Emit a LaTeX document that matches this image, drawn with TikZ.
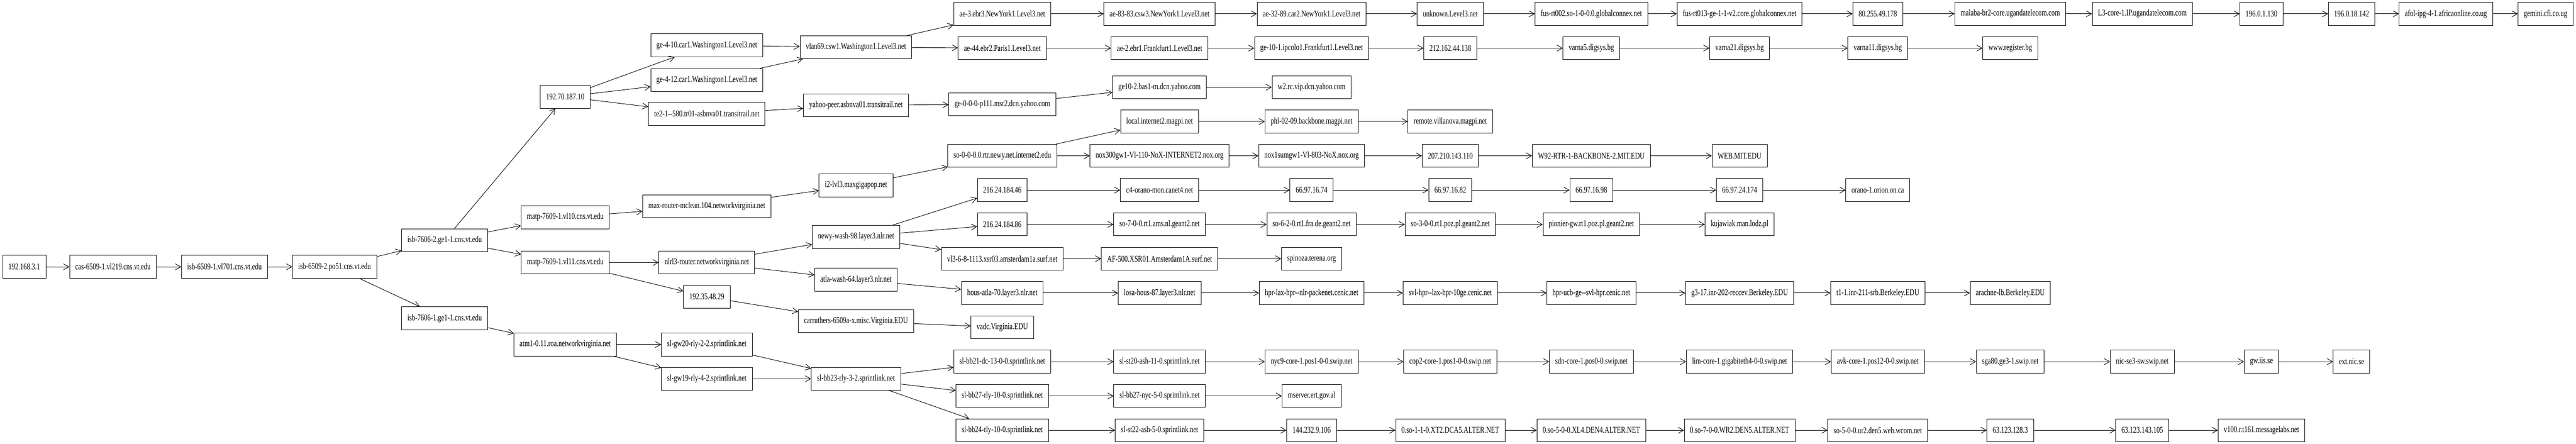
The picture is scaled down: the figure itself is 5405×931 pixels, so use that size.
\documentclass[tikz,border=0pt]{standalone}
\usepackage{fontspec}
\setmainfont[Ligatures=TeXOff,FakeStretch=0.75]{Liberation Serif}
\usetikzlibrary{arrows.meta}
\begin{document}
\begin{tikzpicture}[x=0.75pt, y=-0.75pt, line width=0.75pt,
    >={Straight Barb[length=8.5pt,width=9.5pt]},
    router/.style={draw, rectangle, minimum height=36pt, inner xsep=9pt,
        font=\fontsize{14pt}{16pt}\selectfont}]
    \useasboundingbox (0,0) rectangle (5405,931);

    % Campus
    \node[router] (lan) at (51,560) {192.168.3.1};
    \node[router] (cas) at (237,560) {cas-6509-1.vl219.cns.vt.edu};
    \node[router] (isbA) at (471,560) {isb-6509-1.vl701.cns.vt.edu};
    \node[router] (isbB) at (702,560) {isb-6509-2.po51.cns.vt.edu};
    \node[router] (isbC) at (933,504) {isb-7606-2.ge1-1.cns.vt.edu};
    \node[router] (isbD) at (933,668) {isb-7606-1.ge1-1.cns.vt.edu};
    \node[router] (vt10) at (1186,203) {192.70.187.10};
    \node[router] (matpA) at (1186,456) {matp-7609-1.vl10.cns.vt.edu};
    \node[router] (matpB) at (1186,551) {matp-7609-1.vl11.cns.vt.edu};
    \node[router] (atm) at (1186,723) {atm1-0.11.roa.networkvirginia.net};

    % Arrows
    \draw[->] (lan) -- (cas);
    \draw[->] (cas) -- (isbA);
    \draw[->] (isbA) -- (isbB);
    \draw[->] (isbB) -- (isbC);
    \draw[->] (isbB) -- (isbD);
    \draw[->] (isbC) -- (vt10);
    \draw[->] (isbC) -- (matpA);
    \draw[->] (isbC) -- (matpB);
    \draw[->] (isbD) -- (atm);

    % Upstream
    \node[router] (ge410) at (1483,95) {ge-4-10.car1.Washington1.Level3.net};
    \node[router] (ge412) at (1483,168) {ge-4-12.car1.Washington1.Level3.net};
    \node[router] (te21) at (1483,239) {te2-1--580.tr01-asbnva01.transitrail.net};
    \node[router] (maxr) at (1483,433) {max-router-mclean.104.networkvirginia.net};
    \node[router] (nlrl3) at (1483,551) {nlrl3-router.networkvirginia.net};
    \node[router] (uva) at (1483,623) {192.35.48.29};
    \node[router] (gw20) at (1483,723) {sl-gw20-rly-2-2.sprintlink.net};
    \node[router] (gw19) at (1483,795) {sl-gw19-rly-4-2.sprintlink.net};

    % Arrows
    \draw[->] (vt10) -- (ge410);
    \draw[->] (vt10) -- (ge412);
    \draw[->] (vt10) -- (te21);
    \draw[->] (matpA) -- (maxr);
    \draw[->] (matpB) -- (nlrl3);
    \draw[->] (matpB) -- (uva);
    \draw[->] (atm) -- (gw20);
    \draw[->] (atm) -- (gw19);

    % Backbones
    \node[router] (vlan69) at (1796,99) {vlan69.csw1.Washington1.Level3.net};
    \node[router] (ypeer) at (1796,221) {yahoo-peer.asbnva01.transitrail.net};
    \node[router] (i2) at (1796,389) {i2-lvl3.maxgigapop.net};
    \node[router] (newy) at (1796,497) {newy-wash-98.layer3.nlr.net};
    \node[router] (atla) at (1796,587) {atla-wash-64.layer3.nlr.net};
    \node[router] (carr) at (1796,674) {carruthers-6509a-x.misc.Virginia.EDU};
    \node[router] (bb23) at (1796,795) {sl-bb23-rly-3-2.sprintlink.net};

    % Arrows
    \draw[->] (ge410) -- (vlan69);
    \draw[->] (ge412) -- (vlan69);
    \draw[->] (te21) -- (ypeer);
    \draw[->] (maxr) -- (i2);
    \draw[->] (nlrl3) -- (newy);
    \draw[->] (nlrl3) -- (atla);
    \draw[->] (uva) -- (carr);
    \draw[->] (gw20) -- (bb23);
    \draw[->] (gw19) -- (bb23);

    % Fourth hop out
    \node[router] (ae3) at (2103,29) {ae-3.ebr3.NewYork1.Level3.net};
    \node[router] (ae44) at (2103,101) {ae-44.ebr2.Paris1.Level3.net};
    \node[router] (msr2) at (2103,219) {ge-0-0-0-p111.msr2.dcn.yahoo.com};
    \node[router] (newyi2) at (2103,327) {so-0-0-0.0.rtr.newy.net.internet2.edu};
    \node[router] (ipA) at (2103,399) {216.24.184.46};
    \node[router] (ipB) at (2103,471) {216.24.184.86};
    \node[router] (xsr03) at (2103,543) {vl3-6-8-1113.xsr03.amsterdam1a.surf.net};
    \node[router] (hous) at (2103,615) {hous-atla-70.layer3.nlr.net};
    \node[router] (vadc) at (2103,687) {vadc.Virginia.EDU};
    \node[router] (bb21) at (2103,759) {sl-bb21-dc-13-0-0.sprintlink.net};
    \node[router] (bb27r) at (2103,831) {sl-bb27-rly-10-0.sprintlink.net};
    \node[router] (bb24) at (2103,903) {sl-bb24-rly-10-0.sprintlink.net};

    % Arrows
    \draw[->] (vlan69) -- (ae3);
    \draw[->] (vlan69) -- (ae44);
    \draw[->] (ypeer) -- (msr2);
    \draw[->] (i2) -- (newyi2);
    \draw[->] (newy) -- (ipA);
    \draw[->] (newy) -- (ipB);
    \draw[->] (newy) -- (xsr03);
    \draw[->] (atla) -- (hous);
    \draw[->] (carr) -- (vadc);
    \draw[->] (bb23) -- (bb21);
    \draw[->] (bb23) -- (bb27r);
    \draw[->] (bb23) -- (bb24);

    % Fifth hop out
    \node[router] (ae83) at (2433,29) {ae-83-83.csw3.NewYork1.Level3.net};
    \node[router] (ae2) at (2433,101) {ae-2.ebr1.Frankfurt1.Level3.net};
    \node[router] (bas1) at (2433,183) {ge10-2.bas1-m.dcn.yahoo.com};
    \node[router] (magpi) at (2433,255) {local.internet2.magpi.net};
    \node[router] (nox300) at (2433,327) {nox300gw1-Vl-110-NoX-INTERNET2.nox.org};
    \node[router] (canet) at (2433,399) {c4-orano-mon.canet4.net};
    \node[router] (ams) at (2433,471) {so-7-0-0.rt1.ams.nl.geant2.net};
    \node[router] (af500) at (2433,543) {AF-500.XSR01.Amsterdam1A.surf.net};
    \node[router] (losa) at (2433,615) {losa-hous-87.layer3.nlr.net};
    \node[router] (st20) at (2433,759) {sl-st20-ash-11-0.sprintlink.net};
    \node[router] (bb27n) at (2433,831) {sl-bb27-nyc-5-0.sprintlink.net};
    \node[router] (st22) at (2433,903) {sl-st22-ash-5-0.sprintlink.net};

    % Arrows
    \draw[->] (ae3) -- (ae83);
    \draw[->] (ae44) -- (ae2);
    \draw[->] (msr2) -- (bas1);
    \draw[->] (newyi2) -- (magpi);
    \draw[->] (newyi2) -- (nox300);
    \draw[->] (ipA) -- (canet);
    \draw[->] (ipB) -- (ams);
    \draw[->] (xsr03) -- (af500);
    \draw[->] (hous) -- (losa);
    \draw[->] (bb21) -- (st20);
    \draw[->] (bb27r) -- (bb27n);
    \draw[->] (bb24) -- (st22);

    % Sixth hop out
    \node[router] (ae32) at (2752,29) {ae-32-89.car2.NewYork1.Level3.net};
    \node[router] (ipcolo) at (2752,101) {ge-10-1.ipcolo1.Frankfurt1.Level3.net};
    \node[router] (w2rc) at (2752,183) {w2.rc.vip.dcn.yahoo.com};
    \node[router] (phl) at (2752,255) {phl-02-09.backbone.magpi.net};
    \node[router] (nox1) at (2752,327) {nox1sumgw1-Vl-803-NoX.nox.org};
    \node[router] (ipC) at (2752,399) {66.97.16.74};
    \node[router] (fra) at (2752,471) {so-6-2-0.rt1.fra.de.geant2.net};
    \node[router] (terena) at (2752,543) {spinoza.terena.org};
    \node[router] (hprlax) at (2752,615) {hpr-lax-hpr--nlr-packenet.cenic.net};
    \node[router] (nyc9) at (2752,759) {nyc9-core-1.pos1-0-0.swip.net};
    \node[router] (ertal) at (2752,831) {mserver.ert.gov.al};
    \node[router] (ipD) at (2752,903) {144.232.9.106};

    % Arrows
    \draw[->] (ae83) -- (ae32);
    \draw[->] (ae2) -- (ipcolo);
    \draw[->] (bas1) -- (w2rc);
    \draw[->] (magpi) -- (phl);
    \draw[->] (nox300) -- (nox1);
    \draw[->] (canet) -- (ipC);
    \draw[->] (ams) -- (fra);
    \draw[->] (af500) -- (terena);
    \draw[->] (losa) -- (hprlax);
    \draw[->] (st20) -- (nyc9);
    \draw[->] (bb27n) -- (ertal);
    \draw[->] (st22) -- (ipD);

    % Seventh hop out
    \node[router] (unknown) at (3043,29) {unknown.Level3.net};
    \node[router] (ipE) at (3043,101) {212.162.44.138};
    \node[router] (villa) at (3043,255) {remote.villanova.magpi.net};
    \node[router] (ipF) at (3043,327) {207.210.143.110};
    \node[router] (ipG) at (3043,399) {66.97.16.82};
    \node[router] (poz) at (3043,471) {so-3-0-0.rt1.poz.pl.geant2.net};
    \node[router] (svl) at (3043,615) {svl-hpr--lax-hpr-10ge.cenic.net};
    \node[router] (cop2) at (3043,759) {cop2-core-1.pos1-0-0.swip.net};
    \node[router] (xt2) at (3043,903) {0.so-1-1-0.XT2.DCA5.ALTER.NET};

    % Arrows
    \draw[->] (ae32) -- (unknown);
    \draw[->] (ipcolo) -- (ipE);
    \draw[->] (phl) -- (villa);
    \draw[->] (nox1) -- (ipF);
    \draw[->] (ipC) -- (ipG);
    \draw[->] (fra) -- (poz);
    \draw[->] (hprlax) -- (svl);
    \draw[->] (nyc9) -- (cop2);
    \draw[->] (ipD) -- (xt2);

    % Eighth hop out
    \node[router] (fus002) at (3339,29) {fus-rt002.so-1-0-0.0.globalconnex.net};
    \node[router] (varna5) at (3339,101) {varna5.digsys.bg};
    \node[router] (w92) at (3339,327) {W92-RTR-1-BACKBONE-2.MIT.EDU};
    \node[router] (ipH) at (3339,399) {66.97.16.98};
    \node[router] (pionier) at (3339,471) {pionier-gw.rt1.poz.pl.geant2.net};
    \node[router] (hprucb) at (3339,615) {hpr-ucb-ge--svl-hpr.cenic.net};
    \node[router] (sdn) at (3339,759) {sdn-core-1.pos0-0.swip.net};
    \node[router] (xl4) at (3339,903) {0.so-5-0-0.XL4.DEN4.ALTER.NET};

    % Arrows
    \draw[->] (unknown) -- (fus002);
    \draw[->] (ipE) -- (varna5);
    \draw[->] (ipF) -- (w92);
    \draw[->] (ipG) -- (ipH);
    \draw[->] (poz) -- (pionier);
    \draw[->] (svl) -- (hprucb);
    \draw[->] (cop2) -- (sdn);
    \draw[->] (xt2) -- (xl4);

    % Ninth hop out
    \node[router] (fus013) at (3650,29) {fus-rt013-ge-1-1-v2.core.globalconnex.net};
    \node[router] (varna21) at (3650,101) {varna21.digsys.bg};
    \node[router] (mit) at (3650,327) {WEB.MIT.EDU};
    \node[router] (ipI) at (3650,399) {66.97.24.174};
    \node[router] (lodz) at (3650,471) {kujawiak.man.lodz.pl};
    \node[router] (g317) at (3650,615) {g3-17.inr-202-reccev.Berkeley.EDU};
    \node[router] (lim) at (3650,759) {lim-core-1.gigabiteth4-0-0.swip.net};
    \node[router] (wr2) at (3650,903) {0.so-7-0-0.WR2.DEN5.ALTER.NET};

    % Arrows
    \draw[->] (fus002) -- (fus013);
    \draw[->] (varna5) -- (varna21);
    \draw[->] (w92) -- (mit);
    \draw[->] (ipH) -- (ipI);
    \draw[->] (pionier) -- (lodz);
    \draw[->] (hprucb) -- (g317);
    \draw[->] (sdn) -- (lim);
    \draw[->] (xl4) -- (wr2);

    % Tenth hop out
    \node[router] (ipJ) at (3940,29) {80.255.49.178};
    \node[router] (varna11) at (3940,101) {varna11.digsys.bg};
    \node[router] (orion) at (3940,399) {orano-1.orion.on.ca};
    \node[router] (t11) at (3940,615) {t1-1.inr-211-srb.Berkeley.EDU};
    \node[router] (avk) at (3940,759) {avk-core-1.pos12-0-0.swip.net};
    \node[router] (ur2) at (3940,903) {so-5-0-0.ur2.den5.web.wcom.net};

    % Arrows
    \draw[->] (fus013) -- (ipJ);
    \draw[->] (varna21) -- (varna11);
    \draw[->] (ipI) -- (orion);
    \draw[->] (g317) -- (t11);
    \draw[->] (lim) -- (avk);
    \draw[->] (wr2) -- (ur2);

    % Last hops
    \node[router] (malaba) at (4218,29) {malaba-br2-core.ugandatelecom.com};
    \node[router] (register) at (4218,101) {www.register.bg};
    \node[router] (arachne) at (4218,615) {arachne-lb.Berkeley.EDU};
    \node[router] (sga80) at (4218,759) {sga80.ge3-1.swip.net};
    \node[router] (ipK) at (4218,903) {63.123.128.3};
    \node[router] (l3core) at (4495,29) {L3-core-1.IP.ugandatelecom.com};
    \node[router] (nicsw) at (4495,759) {nic-se3-sw.swip.net};
    \node[router] (ipL) at (4495,903) {63.123.143.105};
    \node[router] (ipM) at (4745,29) {196.0.1.130};
    \node[router] (iis) at (4745,759) {gw.iis.se};
    \node[router] (mlabs) at (4745,903) {v100.r.t161.messagelabs.net};
    \node[router] (ipN) at (4934,29) {196.0.18.142};
    \node[router] (nicse) at (4934,759) {ext.nic.se};
    \node[router] (afol) at (5132,29) {afol-ipg-4-1.africaonline.co.ug};
    \node[router] (cfi) at (5341,29) {gemini.cfi.co.ug};

    % Arrows
    \draw[->] (ipJ) -- (malaba);
    \draw[->] (varna11) -- (register);
    \draw[->] (t11) -- (arachne);
    \draw[->] (avk) -- (sga80);
    \draw[->] (ur2) -- (ipK);
    \draw[->] (malaba) -- (l3core);
    \draw[->] (sga80) -- (nicsw);
    \draw[->] (ipK) -- (ipL);
    \draw[->] (l3core) -- (ipM);
    \draw[->] (nicsw) -- (iis);
    \draw[->] (ipL) -- (mlabs);
    \draw[->] (ipM) -- (ipN);
    \draw[->] (iis) -- (nicse);
    \draw[->] (ipN) -- (afol);
    \draw[->] (afol) -- (cfi);
\end{tikzpicture}
\end{document}
